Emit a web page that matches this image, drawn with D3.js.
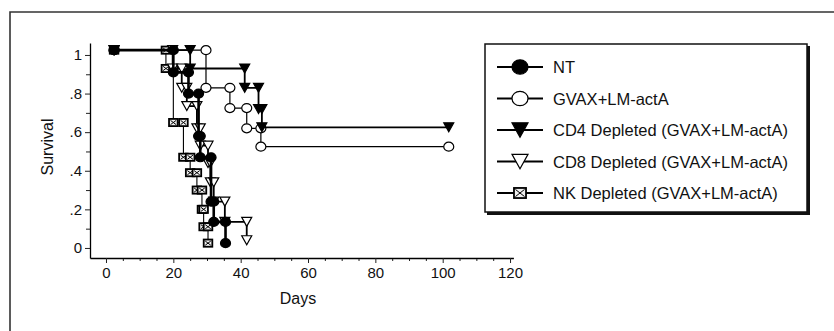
<!DOCTYPE html>
<html>
<head>
<meta charset="utf-8">
<script src="https://cdn.jsdelivr.net/npm/d3@7"></script>
<style>
  body { margin: 0; background: #fff; }
  svg { display: block; font-family: "Liberation Sans", Arial, sans-serif; }
  svg text { font-family: "Liberation Sans", Arial, sans-serif; fill: #111; }
  .tick text { font-size: 15px; }
  .title { font-size: 16px; }
  .legend-text { font-size: 16.5px; }
</style>
</head>
<body>
<svg id="chart" width="834" height="331"></svg>
<script>
// Series data: [day, survival] vertices of each step curve (markers sit on every vertex)
const seriesNames = ['NT', 'GVAX+LM-actA', 'CD4 Depleted (GVAX+LM-actA)', 'CD8 Depleted (GVAX+LM-actA)', 'NK Depleted (GVAX+LM-actA)'];
const markerTypes = ['filledCircle', 'openCircle', 'filledTri', 'openTri', 'box'];

const ntPoints = [[2.4,1.025],[20,1.025],[20,0.91],[24.5,0.91],[24.5,0.80],[27.5,0.80],[27.5,0.58],[28,0.58],[28,0.47],[31.2,0.47],[31.2,0.24],[32,0.24],[32,0.135],[35.5,0.135],[35.5,0.025]];
const gvaxPoints = [[2.4,1.025],[29.7,1.025],[29.7,0.83],[36.8,0.83],[36.8,0.725],[41.8,0.725],[41.8,0.62],[46,0.62],[46,0.525],[101.8,0.525]];
const cd4Points = [[2.4,1.025],[25,1.025],[25,0.93],[41.2,0.93],[41.2,0.83],[45.3,0.83],[45.3,0.72],[46.3,0.72],[46.3,0.625],[101.8,0.625]];
const cd8Points = [[2.4,1.025],[19.8,1.025],[19.8,0.93],[22.5,0.93],[22.5,0.83],[24,0.83],[24,0.735],[27,0.735],[27,0.62],[28,0.62],[28,0.53],[30.3,0.53],[30.3,0.44],[31,0.44],[31,0.34],[32,0.34],[32,0.24],[35.3,0.24],[35.3,0.135],[41.8,0.135],[41.8,0.04]];
const nkPoints = [[2.4,1.025],[17.8,1.025],[17.8,0.93],[20,0.93],[20,0.65],[23,0.65],[23,0.47],[25,0.47],[25,0.39],[27,0.39],[27,0.30],[28.5,0.30],[28.5,0.20],[29,0.20],[29,0.11],[30.3,0.11],[30.3,0.025]];

const allPoints = [ntPoints, gvaxPoints, cd4Points, cd8Points, nkPoints];
const lineWidths = [2.6, 1.2, 1.8, 1.8, 1.1];

const xMajorTicks = [0, 20, 40, 60, 80, 100, 120];
const yMajorTicks = [0, 0.2, 0.4, 0.6, 0.8, 1];
const yTickLabels = ['0', '.2', '.4', '.6', '.8', '1'];

const svg = d3.select('#chart');

// outer frame (runs off the right and bottom edge)
svg.append('path')
  .attr('d', 'M10,340 L10,12 L840,12')
  .attr('fill', 'none')
  .attr('stroke', '#333')
  .attr('stroke-width', 1.6);

// scales
const x = d3.scaleLinear().domain([-4.75, 121]).range([90, 513.4]);
const y = d3.scaleLinear().domain([-0.052, 1.062]).range([258, 43]);

// x axis
const xMinor = svg.append('g').attr('transform', 'translate(0,258)')
  .call(d3.axisBottom(x).tickValues(d3.range(5, 120, 5).filter(d => d % 20 !== 0)).tickSize(3).tickFormat(''));
xMinor.select('.domain').remove();
const xMajor = svg.append('g').attr('transform', 'translate(0,258)')
  .call(d3.axisBottom(x).tickValues(xMajorTicks).tickSize(5).tickSizeOuter(0).tickPadding(4));
xMajor.select('.domain').attr('stroke-width', 1.3);
xMajor.attr('font-size', null).attr('font-family', null);

// y axis
const yMinor = svg.append('g').attr('transform', 'translate(90,0)')
  .call(d3.axisLeft(y).tickValues([0.1, 0.3, 0.5, 0.7, 0.9]).tickSize(4).tickFormat(''));
yMinor.select('.domain').remove();
const yMajor = svg.append('g').attr('transform', 'translate(90,0)')
  .call(d3.axisLeft(y).tickValues(yMajorTicks).tickSize(5).tickSizeOuter(0).tickPadding(3)
    .tickFormat((d, i) => yTickLabels[i]));
yMajor.select('.domain').attr('stroke-width', 1.3);
yMajor.attr('font-size', null).attr('font-family', null);
svg.selectAll('.tick line').attr('stroke', '#222');

// axis titles
svg.append('text')
  .attr('class', 'title')
  .attr('transform', 'translate(53,147) rotate(-90)')
  .attr('text-anchor', 'middle')
  .text('Survival');
svg.append('text')
  .attr('class', 'title')
  .attr('x', 298).attr('y', 304)
  .attr('text-anchor', 'middle')
  .text('Days');

// marker drawing
function drawMarker(g, type, s) {
  const w = 5 * s, h = 4.5 * s;
  if (type === 'filledCircle' || type === 'openCircle') {
    g.append('ellipse').attr('rx', w).attr('ry', h)
      .attr('fill', type === 'filledCircle' ? '#000' : '#fff')
      .attr('stroke', '#000').attr('stroke-width', 1.2);
  } else if (type === 'filledTri' || type === 'openTri') {
    g.append('path')
      .attr('d', `M${-w},${-h} L${w},${-h} L0,${h} Z`)
      .attr('fill', type === 'filledTri' ? '#000' : '#fff')
      .attr('stroke', '#000').attr('stroke-width', 1.2);
  } else {
    const bw = 4.3 * s, bh = 3.6 * s;
    g.append('rect').attr('x', -bw).attr('y', -bh).attr('width', 2 * bw).attr('height', 2 * bh)
      .attr('fill', '#eee').attr('stroke', '#000').attr('stroke-width', 1.8);
    g.append('path')
      .attr('d', `M${-bw + 1.5},${-bh + 1.5} L${bw - 1.5},${bh - 1.5} M${bw - 1.5},${-bh + 1.5} L${-bw + 1.5},${bh - 1.5}`)
      .attr('stroke', '#000').attr('stroke-width', 1);
  }
}

// curves
const line = d3.line().x(d => x(d[0])).y(d => y(d[1]));
const drawOrder = [4, 3, 1, 2, 0];
drawOrder.forEach(i => {
  const g = svg.append('g');
  g.append('path')
    .datum(allPoints[i])
    .attr('d', line)
    .attr('fill', 'none')
    .attr('stroke', '#000')
    .attr('stroke-width', lineWidths[i]);
  allPoints[i].forEach(p => {
    const m = g.append('g').attr('transform', `translate(${x(p[0])},${y(p[1])})`);
    drawMarker(m, markerTypes[i], 1);
  });
});

// legend
const legend = svg.append('g');
legend.append('rect')
  .attr('x', 487).attr('y', 46).attr('width', 323).attr('height', 169)
  .attr('fill', '#111');
legend.append('rect')
  .attr('x', 485).attr('y', 44).attr('width', 322).attr('height', 168)
  .attr('fill', '#fff').attr('stroke', '#111').attr('stroke-width', 1.5);

seriesNames.forEach((name, i) => {
  const ly = 67 + i * 31.5;
  const row = legend.append('g').attr('transform', `translate(0,${ly})`);
  row.append('line')
    .attr('x1', 497).attr('x2', 543)
    .attr('stroke', '#000').attr('stroke-width', 2.2);
  const m = row.append('g').attr('transform', 'translate(520,0)');
  drawMarker(m, markerTypes[i], markerTypes[i] === 'box' ? 1.4 : 1.6);
  row.append('text')
    .attr('class', 'legend-text')
    .attr('x', 553).attr('y', 6)
    .text(name);
});
</script>
</body>
</html>
